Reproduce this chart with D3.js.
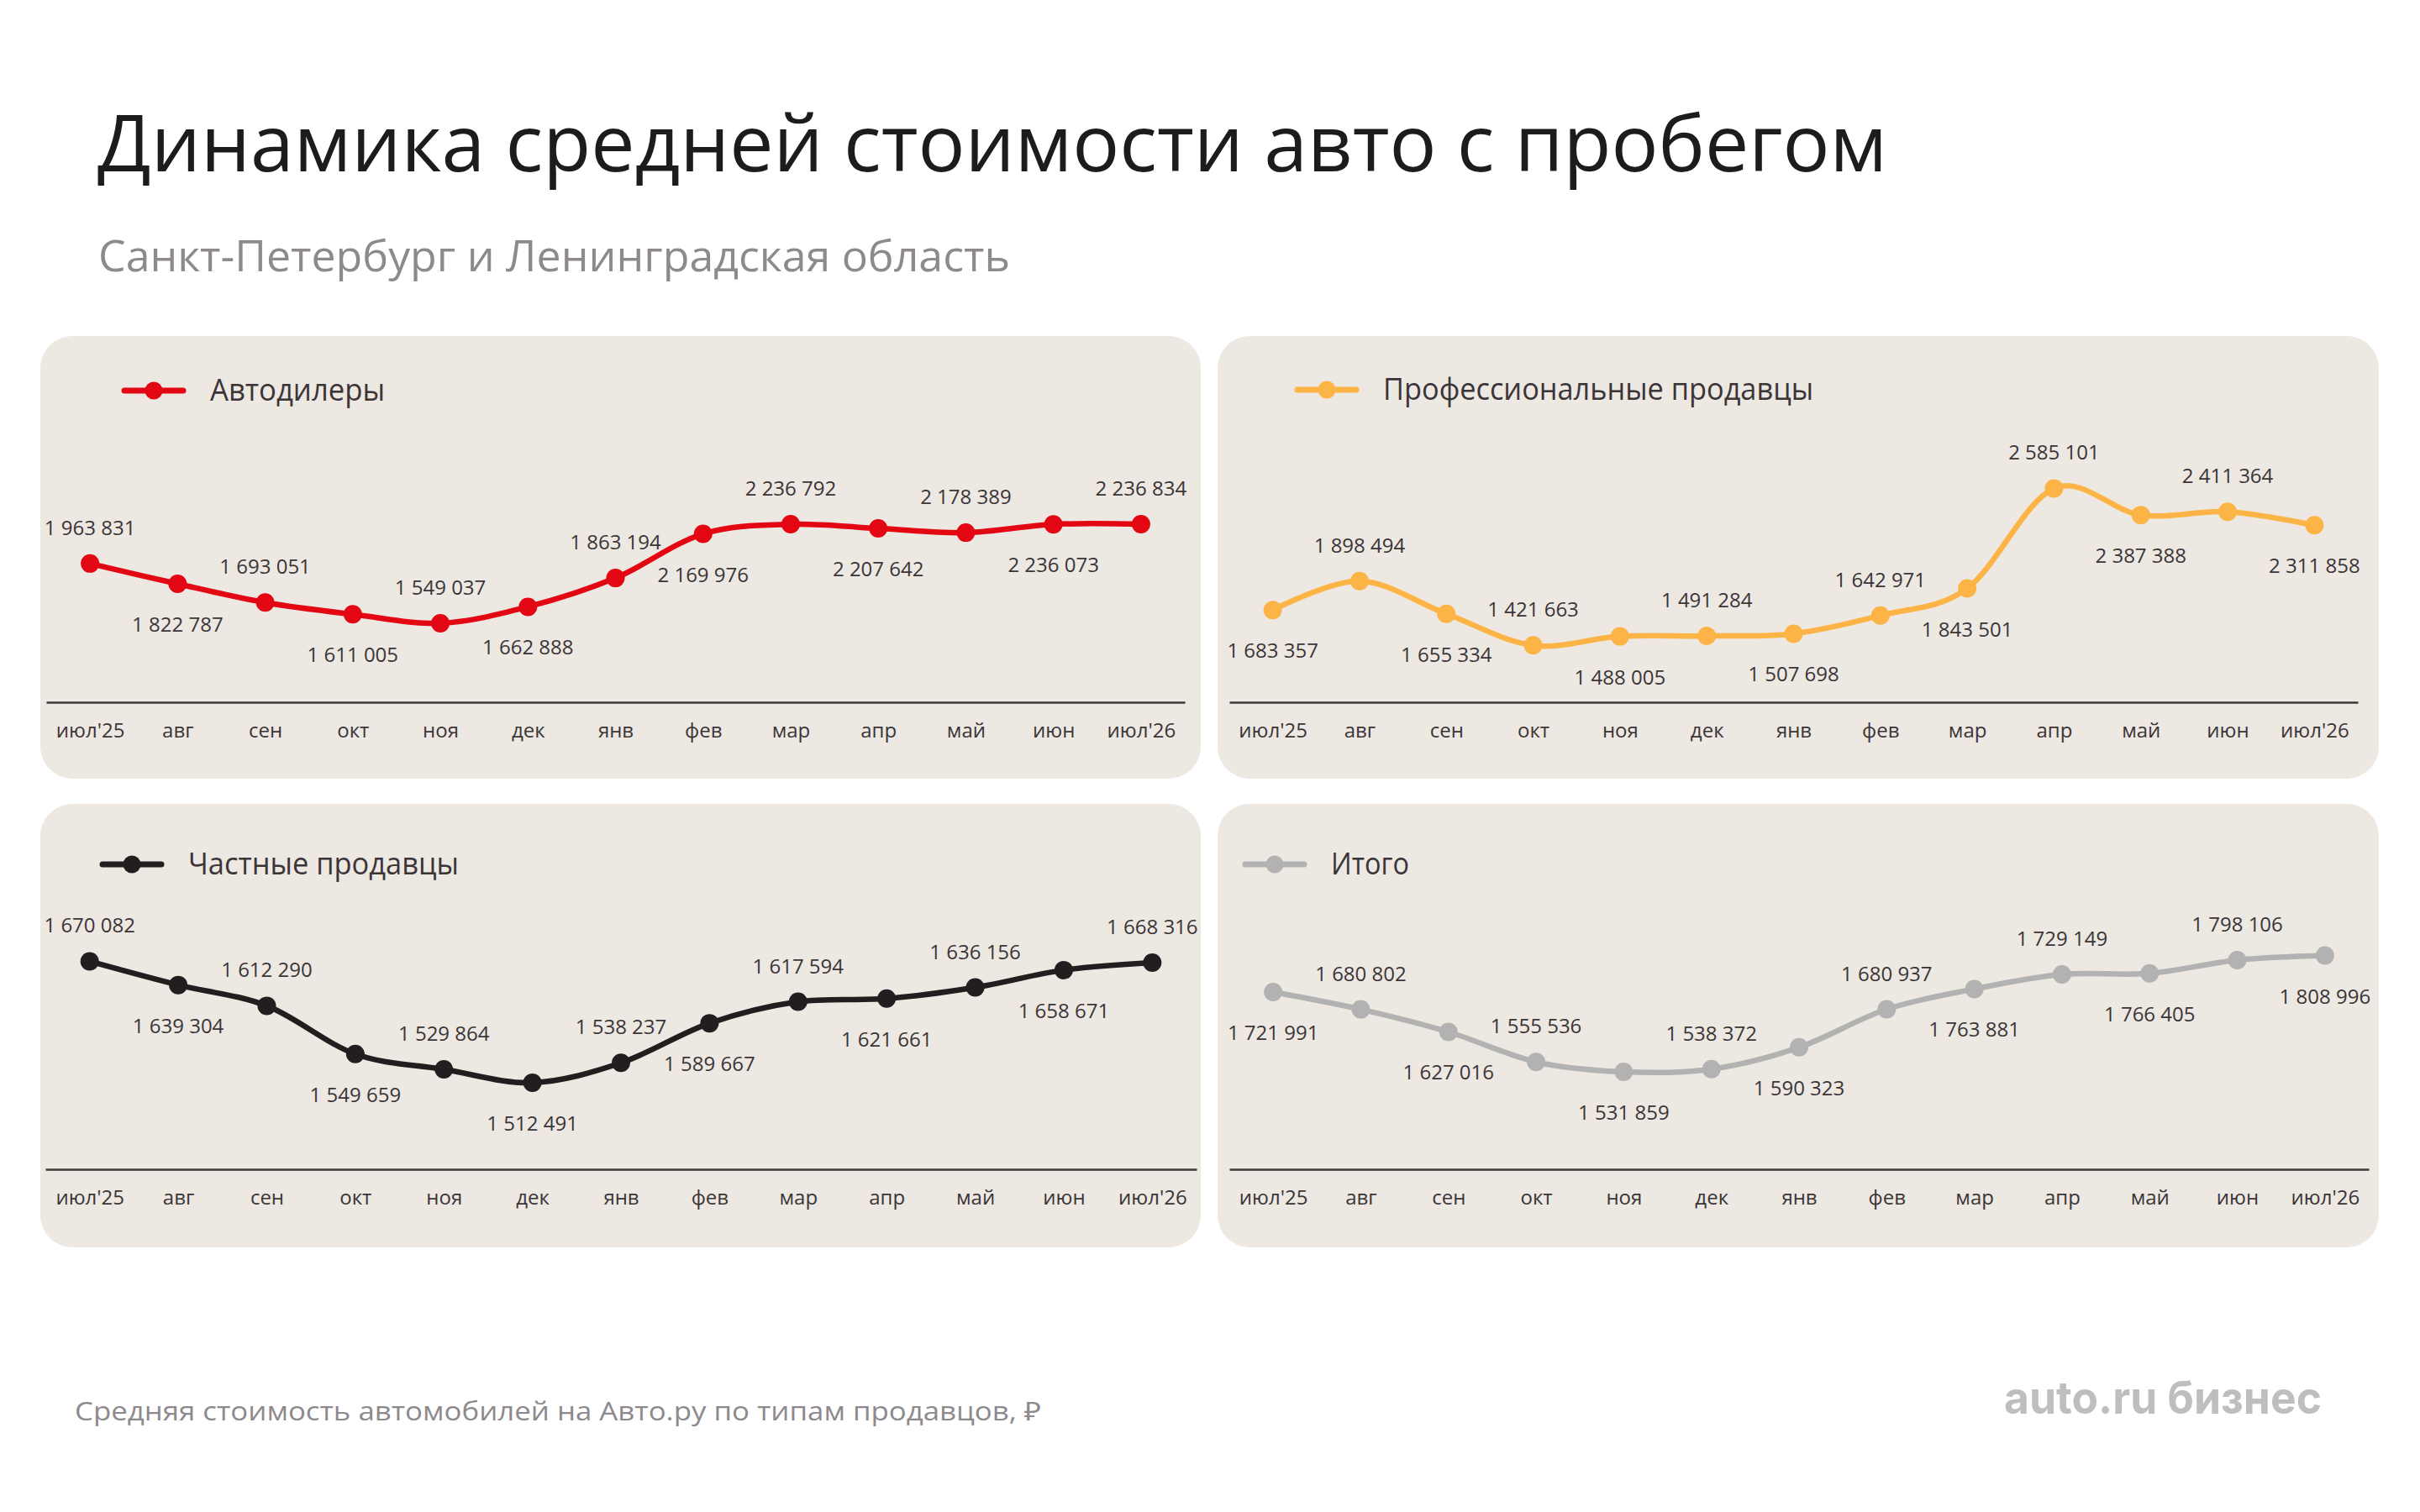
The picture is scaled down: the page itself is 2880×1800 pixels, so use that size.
<!DOCTYPE html>
<html lang="ru">
<head>
    <meta charset="UTF-8">
    <title>Динамика средней стоимости авто с пробегом</title>
    <script src="https://d3js.org/d3.v7.min.js"></script>
    <style>
        body {
            margin: 0;
            background: #fff;
            font-family: "Open Sans", "Noto Sans", Arial, sans-serif;
        }
    </style>
</head>
<body>
    <div id="chart"></div>

    <script>
        // data
        const months = ["июл'25", "авг", "сен", "окт", "ноя", "дек", "янв", "фев", "мар", "апр", "май", "июн", "июл'26"];
        const dealers = [1963831, 1822787, 1693051, 1611005, 1549037, 1662888, 1863194, 2169976, 2236792, 2207642, 2178389, 2236073, 2236834];
        const proSellers = [1683357, 1898494, 1655334, 1421663, 1488005, 1491284, 1507698, 1642971, 1843501, 2585101, 2387388, 2411364, 2311858];
        const privateSellers = [1670082, 1639304, 1612290, 1549659, 1529864, 1512491, 1538237, 1589667, 1617594, 1621661, 1636156, 1658671, 1668316];
        const total = [1721991, 1680802, 1627016, 1555536, 1531859, 1538372, 1590323, 1680937, 1729149, 1763881, 1766405, 1798106, 1808996];
        // in the source the мар/апр labels of "Итого" stand the other way round
        const totalLabels = [1721991, 1680802, 1627016, 1555536, 1531859, 1538372, 1590323, 1680937, 1763881, 1729149, 1766405, 1798106, 1808996];
        const seriesNames = ["Автодилеры", "Профессиональные продавцы", "Частные продавцы", "Итого"];
        const yDomains = [[1000000, 2500000], [1000000, 2600000], [1400000, 1700000], [1300000, 1850000]];

        const W = 2880, H = 1800;
        const ink = "#3b3538";
        const fmt = d3.formatLocale({ decimal: ",", thousands: " ", grouping: [3], currency: ["", ""] }).format(",");

        const svg = d3.select("#chart").append("svg")
            .attr("width", W)
            .attr("height", H)
            .style("display", "block");

        svg.append("rect").attr("width", W).attr("height", H).attr("fill", "#fff");

        // squeeze a text to the width it has in the picture (original font is narrower)
        function fit(sel, w) {
            const len = sel.node().getComputedTextLength();
            if (len > 0) sel.attr("textLength", w).attr("lengthAdjust", "spacingAndGlyphs");
            return sel;
        }

        fit(svg.append("text")
            .attr("x", 116).attr("y", 204)
            .attr("font-size", 94)
            .attr("fill", "#1d1c1a")
            .text("Динамика средней стоимости авто с пробегом"), 2130);

        fit(svg.append("text")
            .attr("x", 117).attr("y", 323)
            .attr("font-size", 52)
            .attr("fill", "#8e898d")
            .text("Санкт-Петербург и Ленинградская область"), 1085);

        // panel layout: box, axis range, legend position
        const panels = [
            { box: [48, 400, 1381, 527], x: [55, 1410], axisY: 836, top: 579, legX: 148, legY: 465, color: "#e30613", above: true, textW: 208 },
            { box: [1449, 400, 1382, 527], x: [1463, 2806], axisY: 836, top: 579, legX: 1544, legY: 464, color: "#fdb446", above: false, textW: 512 },
            { box: [48, 957, 1381, 528], x: [54, 1424], axisY: 1392, top: 1117, legX: 122, legY: 1029, color: "#221e1f", above: true, textW: 322 },
            { box: [1449, 957, 1382, 528], x: [1463, 2819], axisY: 1392, top: 1117, legX: 1482, legY: 1029, color: "#b3b2b2", above: false, textW: 93 }
        ];
        const allSeries = [dealers, proSellers, privateSellers, total];
        const allLabels = [dealers, proSellers, privateSellers, totalLabels];

        function drawPanel(p, values, labels, name, domain) {
            const g = svg.append("g");

            g.append("rect")
                .attr("x", p.box[0]).attr("y", p.box[1])
                .attr("width", p.box[2]).attr("height", p.box[3])
                .attr("rx", 38)
                .attr("fill", "#ede8e1");

            const x = d3.scalePoint().domain(months).range(p.x).padding(0.5);
            const y = d3.scaleLinear().domain(domain).range([p.axisY, p.top]);

            const axis = g.append("g")
                .attr("transform", `translate(0,${p.axisY})`)
                .call(d3.axisBottom(x).tickSize(0).tickSizeOuter(0).tickPadding(25));
            axis.select(".domain").attr("stroke", "#3a3a3a").attr("stroke-width", 2.5);
            axis.selectAll("text")
                .attr("font-family", "'Open Sans', 'Noto Sans', sans-serif")
                .attr("font-size", 24)
                .attr("fill", ink);

            const pts = values.map((v, i) => ({ m: months[i], v: v, lab: labels[i], i: i }));

            const line = d3.line()
                .x(d => x(d.m))
                .y(d => y(d.v))
                .curve(d3.curveCardinal.tension(0));

            g.append("path")
                .datum(pts)
                .attr("d", line)
                .attr("fill", "none")
                .attr("stroke", p.color)
                .attr("stroke-width", 6.5)
                .attr("stroke-linejoin", "round");

            g.selectAll("circle.pt")
                .data(pts)
                .join("circle")
                .attr("class", "pt")
                .attr("cx", d => x(d.m))
                .attr("cy", d => y(d.v))
                .attr("r", 11)
                .attr("fill", p.color);

            g.selectAll("text.lbl")
                .data(pts)
                .join("text")
                .attr("class", "lbl")
                .attr("x", d => x(d.m))
                .attr("y", d => {
                    const up = (d.i % 2 === 0) === p.above;
                    return up ? y(d.v) - 34 : y(d.v) + 57;
                })
                .attr("text-anchor", "middle")
                .attr("font-size", 24)
                .attr("fill", ink)
                .text(d => fmt(d.lab));

            // legend
            g.append("line")
                .attr("x1", p.legX).attr("x2", p.legX + 70)
                .attr("y1", p.legY).attr("y2", p.legY)
                .attr("stroke", p.color)
                .attr("stroke-width", 7)
                .attr("stroke-linecap", "round");
            g.append("circle")
                .attr("cx", p.legX + 35).attr("cy", p.legY)
                .attr("r", 10.5)
                .attr("fill", p.color);
            fit(g.append("text")
                .attr("x", p.legX + 102).attr("y", p.legY + 12)
                .attr("font-size", 36)
                .attr("fill", ink)
                .text(name), p.textW);
        }

        panels.forEach((p, i) => drawPanel(p, allSeries[i], allLabels[i], seriesNames[i], yDomains[i]));

        fit(svg.append("text")
            .attr("x", 89).attr("y", 1691)
            .attr("font-size", 31)
            .attr("fill", "#8e898d")
            .text("Средняя стоимость автомобилей на Авто.ру по типам продавцов, ₽"), 1150);

        fit(svg.append("text")
            .attr("x", 2385).attr("y", 1683)
            .attr("font-family", "Inter, 'Open Sans', sans-serif")
            .attr("font-weight", 700)
            .attr("font-size", 54)
            .attr("fill", "#bebebe")
            .text("auto.ru бизнес"), 378);
    </script>
</body>
</html>
